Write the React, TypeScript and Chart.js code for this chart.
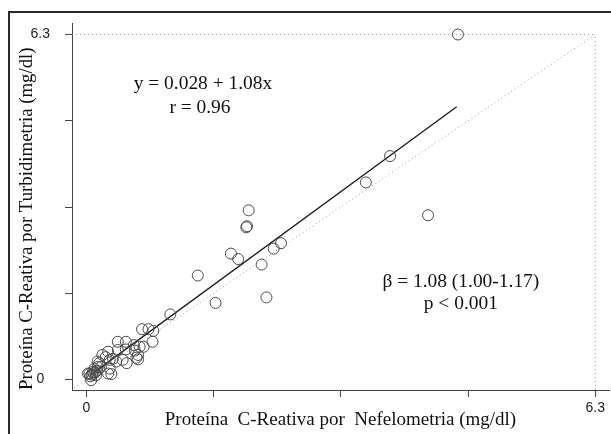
import React, { useEffect, useRef } from "react";
import { Chart, registerables } from "chart.js";

Chart.register(...registerables);

// Nefelometria (x) vs Turbidimetria (y), mg/dl
const NEF = [
  4.60, 3.76, 3.46, 4.23, 2.01, 1.99, 1.98, 2.41, 2.32, 1.79, 1.88, 2.17, 1.38, 1.60, 2.23, 1.04,
  0.69, 0.77, 0.83, 0.82, 0.71, 0.39, 0.49, 0.66, 0.64, 0.64, 0.49, 0.39, 0.27, 0.20, 0.14, 0.29,
  0.37, 0.45, 0.29, 0.27, 0.31, 0.08, 0.04, 0.12, 0.06, 0.18, 0.10, 0.50, 0.62, 0.02, 0.09, 0.14,
  0.05, 0.11, 0.07, 0.13, 0.59, 0.24, 0.33, 0.16, 0.60,
];
const TURB = [
  6.30, 4.08, 3.60, 3.00, 3.09, 2.80, 2.78, 2.49, 2.39, 2.30, 2.20, 2.10, 1.90, 1.40, 1.50, 1.19,
  0.92, 0.92, 0.89, 0.69, 0.60, 0.69, 0.69, 0.60, 0.45, 0.37, 0.55, 0.54, 0.51, 0.45, 0.33, 0.36,
  0.33, 0.36, 0.20, 0.11, 0.10, 0.14, 0.11, 0.08, -0.01, 0.23, 0.20, 0.30, 0.40, 0.11, 0.11, 0.23,
  0.06, 0.13, 0.09, 0.16, 0.63, 0.41, 0.38, 0.30, 0.53,
];

// regression line y = 0.028 + 1.08x (end points)
const REG_X = [0.05, 4.585];
const REG_Y = [0.082, 4.98];

// reference (dotted) lines
const DIAG_X = [-0.15, 6.3];
const DIAG_Y = [-0.15, 6.3];
const TOP_X = [-0.177, 6.3];
const TOP_Y = [6.3, 6.3];
const RIGHT_X = [6.3, 6.3];
const RIGHT_Y = [-0.19, 6.3];

const TICK_VALUES = [0, 1.575, 3.15, 4.725, 6.3];
const TICK_LABELS = ["0", "", "", "", "6.3"];

const X_TITLE = "Proteína  C-Reativa por  Nefelometria (mg/dl)";
const Y_TITLE = "Proteína C-Reativa por Turbidimetria (mg/dl)";

const ANNOTATIONS = [
  { text: "y = 0.028 + 1.08x", x: 1.444, y: 5.396 },
  { text: "r = 0.96", x: 1.407, y: 4.958 },
  { text: "\u03B2 = 1.08 (1.00-1.17)", x: 4.636, y: 1.78 },
  { text: "p < 0.001", x: 4.636, y: 1.379 },
];

const pts = (xs: number[], ys: number[]) => xs.map((x, i) => ({ x, y: ys[i] }));

const SERIF = "'Liberation Serif', 'Times New Roman', serif";
const SANS = "'Liberation Sans', Arial, sans-serif";

const decorPlugin = {
  id: "decor",
  afterDraw(chart: any) {
    const ctx = chart.ctx;
    const xs = chart.scales.x;
    const ys = chart.scales.y;
    ctx.save();
    // outer frame
    ctx.strokeStyle = "#2a2a2a";
    ctx.lineWidth = 2;
    ctx.beginPath();
    ctx.moveTo(9, 434);
    ctx.lineTo(9, 12);
    ctx.lineTo(611, 12);
    ctx.stroke();
    // annotations
    ctx.fillStyle = "#111";
    ctx.font = `18px ${SERIF}`;
    ctx.textAlign = "center";
    ctx.textBaseline = "middle";
    for (const a of ANNOTATIONS) {
      const px = xs.getPixelForValue(a.x);
      const py = ys.getPixelForValue(a.y);
      ctx.save();
      ctx.translate(px, py);
      ctx.scale(1.08, 1);
      ctx.fillText(a.text, 0, 0);
      ctx.restore();
    }
    ctx.restore();
  },
};

export default function App() {
  const ref = useRef<HTMLCanvasElement>(null);
  useEffect(() => {
    if (!ref.current) return;
    const dotted = {
      showLine: true,
      pointRadius: 0,
      borderColor: "#9a9a9a",
      borderWidth: 1,
      borderDash: [1, 3],
      fill: false,
    };
    const chart = new Chart(ref.current, {
      type: "scatter",
      data: {
        datasets: [
          {
            data: pts(NEF, TURB),
            pointRadius: 5.5,
            pointBorderWidth: 1,
            pointBorderColor: "#4a4a4a",
            pointBackgroundColor: "rgba(0,0,0,0)",
            showLine: false,
          },
          {
            data: pts(REG_X, REG_Y),
            showLine: true,
            pointRadius: 0,
            borderColor: "#1a1a1a",
            borderWidth: 1.3,
          },
          { data: pts(DIAG_X, DIAG_Y), ...dotted },
          { data: pts(TOP_X, TOP_Y), ...dotted },
          { data: pts(RIGHT_X, RIGHT_Y), ...dotted },
        ] as any,
      },
      options: {
        animation: false,
        responsive: false,
        events: [],
        clip: false as any,
        layout: { autoPadding: false, padding: { left: 0, right: 2, top: 23, bottom: 0 } } as any,
        plugins: { legend: { display: false }, tooltip: { enabled: false } },
        scales: {
          x: {
            type: "linear",
            min: -0.177,
            max: 6.47,
            afterBuildTicks: (s: any) => {
              s.ticks = TICK_VALUES.map((v) => ({ value: v }));
            },
            afterFit: (s: any) => {
              s.height = 44;
            },
            ticks: {
              autoSkip: false,
              maxRotation: 0,
              padding: 3,
              color: "#222",
              font: { family: SANS, size: 14 },
              callback: (_v: any, i: number) => TICK_LABELS[i],
            },
            grid: { drawOnChartArea: false, drawTicks: true, tickLength: 7, color: "#444" },
            border: { display: true, color: "#444", width: 1 },
            title: {
              display: true,
              text: X_TITLE,
              color: "#111",
              font: { family: SERIF, size: 19 },
              padding: { top: 0, bottom: 3 },
            },
          },
          y: {
            type: "linear",
            min: -0.19,
            max: 6.51,
            afterBuildTicks: (s: any) => {
              s.ticks = TICK_VALUES.map((v) => ({ value: v }));
            },
            afterFit: (s: any) => {
              s.width = 72;
            },
            ticks: {
              autoSkip: false,
              padding: 0,
              crossAlign: "center",
              color: "#222",
              font: { family: SANS, size: 14 },
              callback: (_v: any, i: number) => TICK_LABELS[i],
            },
            grid: {
              drawOnChartArea: false,
              drawTicks: true,
              tickLength: 22,
              tickBorderDash: [7, 15],
              tickBorderDashOffset: 7,
              color: "#444",
            },
            border: { display: true, color: "#444", width: 1 },
            title: {
              display: true,
              text: Y_TITLE,
              color: "#111",
              align: "start",
              font: { family: SERIF, size: 18.8 },
              padding: { top: 16, bottom: 0 },
            },
          },
        },
      },
      plugins: [decorPlugin],
    });
    return () => chart.destroy();
  }, []);
  return (
    <div style={{ position: "absolute", left: 0, top: 0, width: 611, height: 434, background: "#fff" }}>
      <canvas ref={ref} width={611} height={434} style={{ display: "block" }} />
    </div>
  );
}
